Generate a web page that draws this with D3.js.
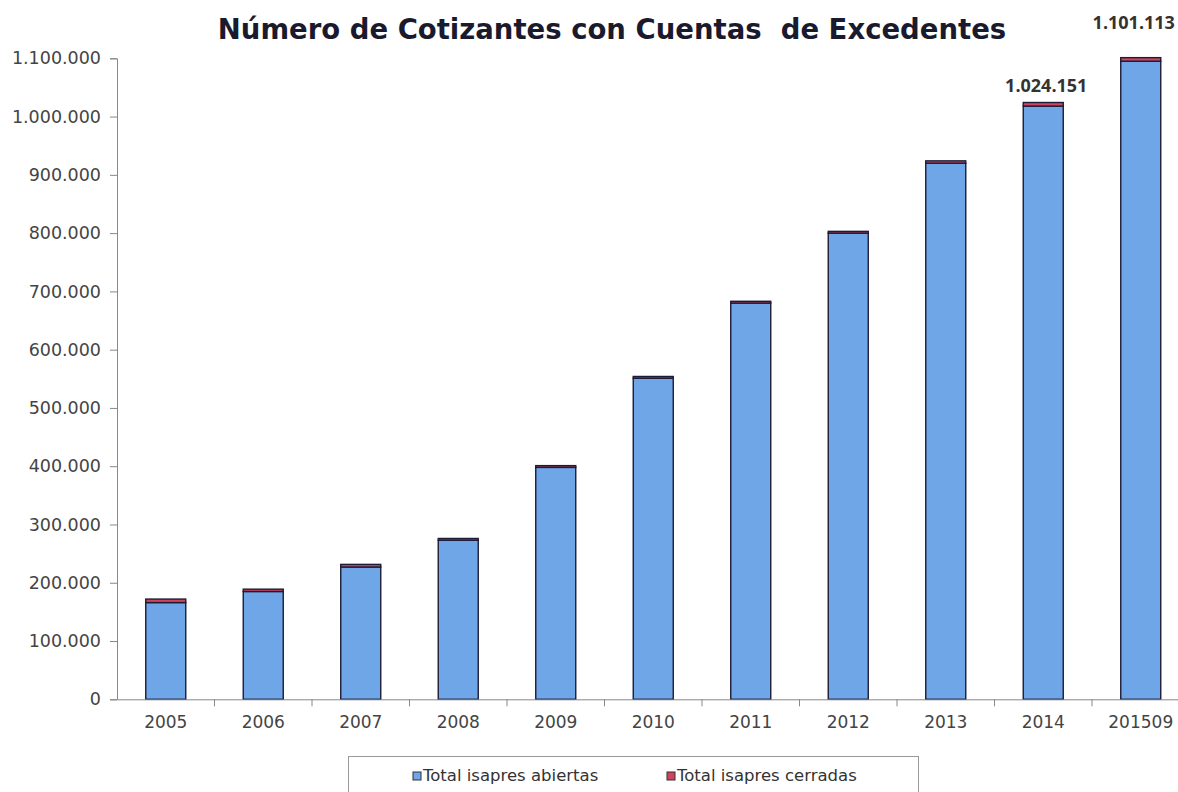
<!DOCTYPE html>
<html><head><meta charset="utf-8">
<script src="https://cdn.jsdelivr.net/npm/d3@7"></script>
<style>body{margin:0;background:#fff;}svg{display:block;}</style>
</head><body>
<svg id="c" width="1178" height="792"></svg>
<script>
const categories = ["2005","2006","2007","2008","2009","2010","2011","2012","2013","2014","201509"];
const abiertas = [166000,185000,227000,273000,398000,551000,680000,800000,920000,1018000,1095000];
const cerradas = [6000,4000,4500,3000,3000,3000,3000,3000,4000,6151,6113];
const yTicks = [0,100000,200000,300000,400000,500000,600000,700000,800000,900000,1000000,1100000];
const labelled = {"2014":"1.024.151","201509":"1.101.113"};
const seriesNames = ["Total isapres abiertas","Total isapres cerradas"];
const colors = ["#6ea6e8","#d0445e"];

const svg = d3.select("#c");
const x0 = 117, yBottom = 699.3, yTop = 58.3;
const x = d3.scaleBand().domain(categories).range([x0, x0 + 97.5*categories.length]);
const y = d3.scaleLinear().domain([0,1100000]).range([yBottom, yTop]);
const fmt = v => d3.format(",")(v).replace(/,/g,".");
const font = "DejaVu Sans, Verdana, sans-serif";

// title
svg.append("text").attr("x",612).attr("y",39).attr("text-anchor","middle")
  .attr("font-family",font).attr("font-weight","bold")
  .attr("font-size",27.5).attr("fill","#1a1a2e").attr("xml:space","preserve")
  .text("Número de Cotizantes con Cuentas  de Excedentes");

// stacked data
const data = categories.map((c,i)=>({c, a:abiertas[i], r:cerradas[i]}));
const stack = d3.stack().keys(["a","r"])(data);
const bw = 40;
stack.forEach((s,si)=>{
  svg.append("g").selectAll("rect").data(s).join("rect")
    .attr("x", d=> x(d.data.c) + x.bandwidth()/2 - bw/2)
    .attr("width", bw)
    .attr("y", d=> y(d[1]))
    .attr("height", d=> y(d[0]) - y(d[1]))
    .attr("fill", colors[si]).attr("stroke","#1c1c36").attr("stroke-width",1.4);
});

// y axis
const ya = d3.axisLeft(y).tickValues(yTicks).tickFormat(fmt).tickSize(7).tickPadding(9);
const gy = svg.append("g").attr("transform",`translate(${x0},0)`).call(ya);
gy.select(".domain").attr("stroke","#888");
gy.selectAll(".tick line").attr("stroke","#888");
gy.selectAll("text").attr("font-family",font).attr("font-size",17.5).attr("fill","#444");

// x axis
const xa = d3.axisBottom(x).tickSize(0).tickPadding(17);
const gx = svg.append("g").attr("transform",`translate(0,${yBottom})`).call(xa);
gx.select(".domain").attr("stroke","#888");
gx.selectAll("text").attr("font-family",font).attr("font-size",17).attr("fill","#444");
// category boundary ticks
svg.append("g").selectAll("line").data(categories.slice(1)).join("line")
  .attr("x1", d=>x(d)).attr("x2", d=>x(d))
  .attr("y1", yBottom).attr("y2", yBottom+7).attr("stroke","#888");

// data labels
const lblOff = {"2014":[3,10],"201509":[-7,29]};
data.filter(d=>labelled[d.c]).forEach(d=>{
  svg.append("text").attr("x", x(d.c)+x.bandwidth()/2 + lblOff[d.c][0]).attr("y", y(d.a+d.r) - lblOff[d.c][1])
    .attr("text-anchor","middle").attr("font-family","Open Sans, Liberation Sans, sans-serif")
    .attr("font-weight","bold").attr("font-size",18).attr("fill","#333")
    .text(labelled[d.c]);
});

// legend
svg.append("rect").attr("x",348.5).attr("y",756.5).attr("width",570).attr("height",50)
  .attr("fill","#fff").attr("stroke","#999");
const lx = [413, 667];
seriesNames.forEach((n,i)=>{
  svg.append("rect").attr("x",lx[i]).attr("y",772).attr("width",8).attr("height",8)
    .attr("fill",colors[i]).attr("stroke","#333").attr("stroke-width",1);
  svg.append("text").attr("x",lx[i]+10).attr("y",781)
    .attr("font-family",font).attr("font-size",16.5).attr("fill","#333")
    .text(n);
});
</script>
</body></html>
